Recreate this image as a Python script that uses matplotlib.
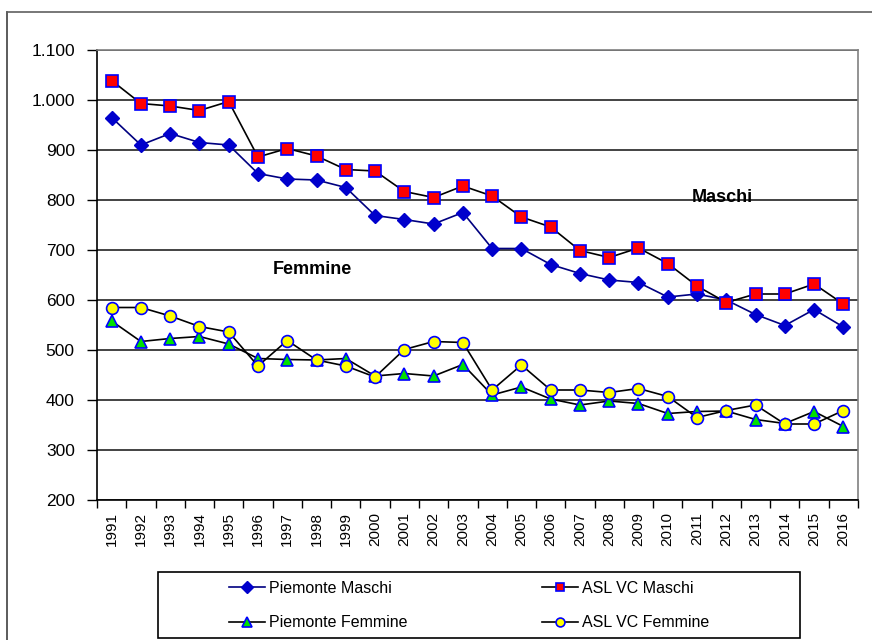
import matplotlib
matplotlib.use("Agg")
import matplotlib.pyplot as plt
from matplotlib.ticker import FuncFormatter, FixedLocator
from matplotlib.lines import Line2D
from matplotlib.patches import Rectangle
import numpy as np

plt.rcParams['font.family'] = ['Liberation Sans', 'DejaVu Sans']

years = [str(y) for y in range(1991, 2017)]
piemonte_maschi = [965, 910, 933, 915, 910, 853, 842, 840, 825, 769, 761, 752, 775, 703, 703,
                   671, 653, 640, 635, 606, 612, 600, 571, 549, 581, 546]
asl_vc_maschi = [1039, 993, 988, 979, 997, 886, 903, 888, 861, 858, 817, 805, 828, 808, 766,
                 746, 699, 685, 704, 673, 628, 595, 612, 612, 632, 592]
piemonte_femmine = [558, 517, 523, 527, 512, 483, 481, 480, 483, 448, 453, 448, 471, 410, 426,
                    402, 390, 398, 393, 373, 377, 378, 361, 353, 377, 347]
asl_vc_femmine = [585, 585, 568, 547, 536, 468, 519, 480, 468, 446, 501, 517, 515, 420, 470,
                  420, 420, 415, 423, 407, 365, 379, 390, 352, 352, 379]

W, H = 872, 640
fig = plt.figure(figsize=(W / 100, H / 100), dpi=100)
ax = fig.add_axes([97 / W, 1 - 500 / H, (858 - 97) / W, (500 - 50) / H])

x = np.arange(len(years))
edge = '#0000FF'
l1, = ax.plot(x, piemonte_maschi, color='#000080', lw=1.2, marker='D', ms=7.5,
              mfc='#0000CC', mec='#0000CC', label='Piemonte Maschi', zorder=4)
l2, = ax.plot(x, asl_vc_maschi, color='black', lw=1.2, marker='s', ms=8,
              mfc='#FF0000', mec=edge, mew=1.2, label='ASL VC Maschi', zorder=4)
l3, = ax.plot(x, piemonte_femmine, color='black', lw=1.2, marker='^', ms=9,
              mfc='#00E000', mec=edge, mew=1.2, label='Piemonte Femmine', zorder=4)
l4, = ax.plot(x, asl_vc_femmine, color='black', lw=1.2, marker='o', ms=8.5,
              mfc='#FFFF00', mec=edge, mew=1.2, label='ASL VC Femmine', zorder=5)

ax.set_xlim(-0.5, len(years) - 0.5)
ax.set_ylim(200, 1100)
ax.set_yticks(np.arange(200, 1101, 100))
ax.yaxis.set_major_formatter(FuncFormatter(lambda v, p: f"{int(v):,}".replace(',', '.')))
ax.yaxis.grid(True, color='#222222', lw=1.2, zorder=1)
ax.set_axisbelow(True)

ax.xaxis.set_major_locator(FixedLocator(np.arange(-0.5, len(years), 1.0)))
ax.xaxis.set_major_formatter(FuncFormatter(lambda v, p: ''))
ax.xaxis.set_minor_locator(FixedLocator(x))
ax.set_xticklabels(years, minor=True, rotation=90, fontsize=11)
ax.tick_params(axis='x', which='minor', length=0, pad=9)
ax.tick_params(axis='x', which='major', direction='out', length=6, width=1, color='black')
ax.tick_params(axis='y', direction='out', length=7, width=1, labelsize=12.5, pad=9)

for s in ['left', 'bottom']:
    ax.spines[s].set_color('black')
    ax.spines[s].set_linewidth(1.2)
for s in ['top', 'right']:
    ax.spines[s].set_color('#808080')
    ax.spines[s].set_linewidth(1.2)

ax.text(20.85, 806, 'Maschi', fontsize=13, fontweight='bold', ha='center', va='center', zorder=6)
ax.text(6.86, 660, 'Femmine', fontsize=13, fontweight='bold', ha='center', va='center', zorder=6)

leg = fig.legend(handles=[l1, l3, l2, l4], ncol=2, loc='upper left',
                 bbox_to_anchor=(229 / W, 1 - 581 / H),
                 fontsize=11.5, frameon=False,
                 handlelength=2.25, handletextpad=0.25, columnspacing=8.4,
                 borderaxespad=0, labelspacing=1.2, borderpad=0, markerscale=0.75)

fig.add_artist(Rectangle((158 / W, 1 - 638 / H), (800 - 158) / W, (638 - 572) / H,
                         transform=fig.transFigure, fill=False, edgecolor='black', lw=1.2))
fig.add_artist(Line2D([7 / W, 7 / W], [0, 1 - 12 / H], color='#404040', lw=1.2))
fig.add_artist(Line2D([7 / W, 1], [1 - 12 / H, 1 - 12 / H], color='#606060', lw=1.2))

fig.savefig('out.png', dpi=100)
